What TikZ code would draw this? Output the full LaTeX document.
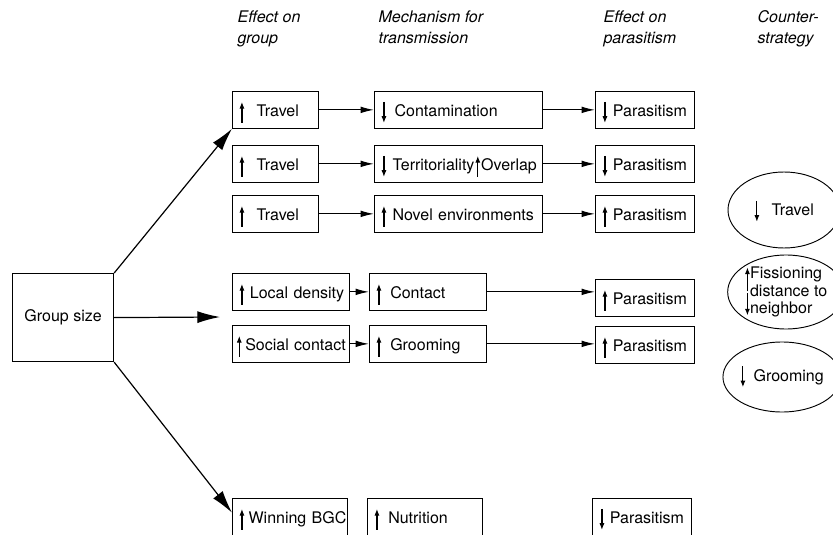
\documentclass[tikz,border=0pt,12pt]{standalone}
\usepackage{fontspec}
\setmainfont{TeX Gyre Heros}
\usetikzlibrary{arrows.meta,shapes.geometric}

\newcommand{\vup}[2]{\tikz[baseline=0pt]{\path[use as bounding box] (-2pt,0pt) rectangle (2pt,8pt);
  \draw[line width=0.85pt,-{Latex[length=5pt,width=3.8pt]}] (0,#1) -- (0,#2);}}
\newcommand{\upa}{\vup{-4.5pt}{11.2pt}}
\newcommand{\dna}{\vup{11.2pt}{-4.5pt}}

\begin{document}
\begin{tikzpicture}[x=0.75pt,y=-0.75pt,
  box/.style={draw,line width=0.9pt,anchor=north west,inner xsep=5pt,inner ysep=0pt,
    minimum height=27.4pt,text height=11pt,text depth=0.5pt,align=left,text width=#1},
  oval/.style={draw,ellipse,line width=0.7pt,inner sep=0pt,align=left,minimum width=84pt,minimum height=#1},
  colhead/.style={anchor=base west,align=left,font=\itshape\fontsize{12}{16}\selectfont},
  bigarrow/.style={-{Latex[length=17pt,width=9pt]},line width=0.9pt},
  flow/.style={-{Latex[length=10pt,width=5pt]},line width=0.9pt}]
\useasboundingbox (0,0) rectangle (833,535);

\node[colhead] (h1) at (232,44) {Effect on\\group};
\node[colhead] (h2) at (373,44) {Mechanism for\\transmission};
\node[colhead] (h3) at (598,44) {Effect on\\parasitism};
\node[colhead] (h4) at (752,44) {Counter-\\strategy};

\node[draw,line width=0.9pt,anchor=north west,minimum width=75.75pt,minimum height=66pt] (gs) at (12,273) {Group size};

\foreach \y/\n in {91/1,145/2,195/3}
  \node[box=54.5pt] (tr\n) at (232,\y) {\upa\hspace{9pt}Travel};
\node[box=116pt] (con) at (374,91) {\dna\hspace{6pt}Contamination};
\node[box=116pt] (ter) at (374,145) {\mbox{\dna\hspace{4.5pt}Territoriality\hspace{0.5pt}\upa\hspace{0.5pt}Overlap}};
\node[box=116pt] (nov) at (374,195) {\upa\hspace{4.5pt}Novel environments};
\node[box=64.25pt] (pa1) at (595,91) {\dna\hspace{4pt}Parasitism};
\node[box=64.25pt] (pa2) at (595,145) {\dna\hspace{4pt}Parasitism};
\node[box=64.25pt] (pa3) at (595,195) {\upa\hspace{4pt}Parasitism};

\node[box=77.75pt] (loc) at (232,273) {\mbox{\upa\hspace{4pt}Local density}};
\node[box=77.75pt] (cnt) at (369,273) {\upa\hspace{6.5pt}Contact};
\node[box=81.75pt,inner xsep=3pt] (soc) at (232,325) {\mbox{\upa\hspace{2.5pt}Social contact}};
\node[box=77.75pt] (grm) at (369,325) {\upa\hspace{6.5pt}Grooming};
\node[box=64.25pt] (pa4) at (595,279) {\upa\hspace{4pt}Parasitism};
\node[box=64.25pt] (pa5) at (595,326) {\upa\hspace{4pt}Parasitism};

\node[box=76.25pt] (win) at (232,498) {\mbox{\upa\hspace{3pt}Winning BGC}};
\node[box=76.25pt] (nut) at (367,498) {\upa\hspace{6.5pt}Nutrition};
\node[box=64.25pt] (pa6) at (592,498) {\dna\hspace{4pt}Parasitism};

\node[oval=57pt] (ct1) at (784,210) {\dna\hspace{9pt}Travel};
\node[oval=55.5pt,font=\fontsize{12}{13}\selectfont] (ct2) at (786,292)
  {\vup{-9.5pt}{8.5pt}Fissioning\\\hspace{4pt}distance to\\\vup{15pt}{-1.5pt}neighbor};
\node[oval=52.5pt] (ct3) at (782,377) {\dna\hspace{6pt}Grooming};

\coordinate (mid) at (220,317);
\draw[bigarrow] (gs.north east) -- (tr1.south west);
\draw[bigarrow] (gs.east) -- (mid);
\draw[bigarrow] (gs.south east) -- ([yshift=-11pt]win.north west);

\foreach \a/\b in {tr1/con,con/pa1,tr2/ter,ter/pa2,tr3/nov,nov/pa3,loc/cnt,soc/grm}
  \draw[flow] (\a) -- (\b);
\draw[flow] (cnt.east) -- (cnt.east -| pa4.west);
\draw[flow] (grm.east) -- (grm.east -| pa5.west);
\end{tikzpicture}
\end{document}
